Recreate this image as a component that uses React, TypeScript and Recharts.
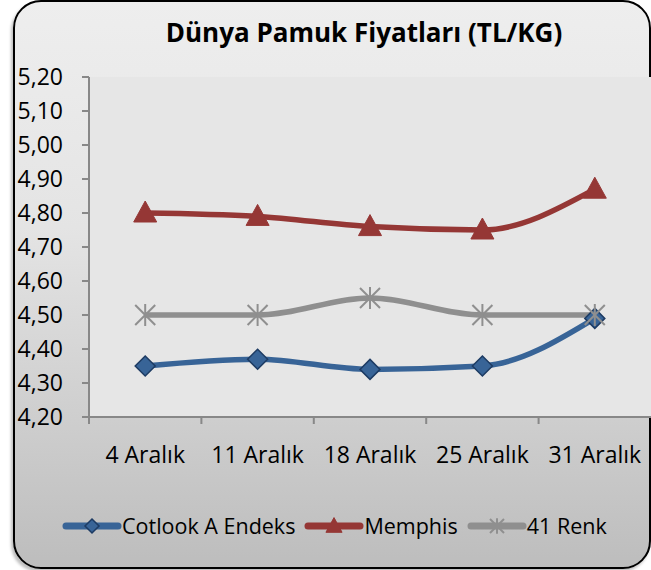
import React from "react";
import { LineChart, Line, XAxis, YAxis, CartesianGrid } from "recharts";

const dates = ["4 Aralık", "11 Aralık", "18 Aralık", "25 Aralık", "31 Aralık"];
const cotlook = [4.35, 4.37, 4.34, 4.35, 4.49];
const memphis = [4.8, 4.79, 4.76, 4.75, 4.87];
const renk41 = [4.5, 4.5, 4.55, 4.5, 4.5];
const yTicks = [4.2, 4.3, 4.4, 4.5, 4.6, 4.7, 4.8, 4.9, 5.0, 5.1, 5.2];

const FONT = "'Open Sans', Lato, sans-serif";
const W = 651;
const H = 570;
const Y_AXIS_W = 89;
const X_AXIS_H = 30;
const TICK_GAP = 30;
const HALF_BAND = (W - Y_AXIS_W) / dates.length / 2;

const data = dates.map((d, i) => ({
  date: d,
  cotlook: cotlook[i],
  memphis: memphis[i],
  renk: renk41[i],
}));

type Marker = "diamond" | "triangle" | "star";

const series: { key: string; name: string; color: string; marker: Marker }[] = [
  { key: "cotlook", name: "Cotlook A Endeks", color: "#386497", marker: "diamond" },
  { key: "memphis", name: "Memphis", color: "#953735", marker: "triangle" },
  { key: "renk", name: "41 Renk", color: "#8f8f8f", marker: "star" },
];

const drawMarker = (m: Marker, cx: number, cy: number, color: string, s: number, key?: string) => {
  if (m === "diamond") {
    return (
      <path key={key} d={`M${cx},${cy - s} L${cx + s},${cy} L${cx},${cy + s} L${cx - s},${cy} Z`}
        fill={color} stroke="#1d3b63" strokeWidth={1.5} />
    );
  }
  if (m === "triangle") {
    return (
      <path key={key} d={`M${cx},${cy - s * 1.2} L${cx + s * 1.15},${cy + s * 0.9} L${cx - s * 1.15},${cy + s * 0.9} Z`}
        fill={color} stroke={color} strokeWidth={1} />
    );
  }
  return (
    <g key={key} stroke={color} strokeWidth={2}>
      <line x1={cx - s} y1={cy - s} x2={cx + s} y2={cy + s} />
      <line x1={cx - s} y1={cy + s} x2={cx + s} y2={cy - s} />
      <line x1={cx} y1={cy - s * 1.1} x2={cx} y2={cy + s * 1.1} />
    </g>
  );
};

const fmt = (v: number) => v.toFixed(2).replace(".", ",");

// tick marks sit on the category boundaries, labels in the middle
const XTick = (p: any) => {
  const axisY = p.y - TICK_GAP;
  return (
    <g>
      <line x1={p.x - HALF_BAND} y1={axisY} x2={p.x - HALF_BAND} y2={axisY + 7} stroke="#888" strokeWidth={2} />
      <text x={p.x} y={p.y} dy="0.71em" textAnchor="middle" fill="#000" fontSize={23} fontFamily={FONT}>
        {p.payload.value}
      </text>
    </g>
  );
};

export default function App() {
  return (
    <div style={{ position: "absolute", left: 0, top: 0, width: W, height: H, background: "#fff", fontFamily: FONT }}>
      <div
        style={{
          position: "absolute", left: 13, top: 0, width: 634, height: 565,
          border: "2px solid #000", borderRadius: 28,
          background: "linear-gradient(#eeeeee, #e4e4e4 40%, #bdbdbd)",
          boxShadow: "-2px 3px 3px rgba(0,0,0,0.25)",
        }}
      />
      <div style={{ position: "absolute", left: 0, top: 14, width: 728, textAlign: "center", fontSize: 26, fontWeight: 700, color: "#000" }}>
        Dünya Pamuk Fiyatları (TL/KG)
      </div>
      <div style={{ position: "absolute", left: 0, top: 0 }}>
        <LineChart width={W} height={H} data={data} margin={{ top: 77, right: 0, bottom: 153 - X_AXIS_H, left: 0 }}>
          <CartesianGrid horizontal={false} vertical={false} fill="#e6e6e6" stroke="none" />
          <XAxis dataKey="date" scale="band" height={X_AXIS_H} stroke="#888" strokeWidth={2} tickLine={false}
            tickSize={0} tickMargin={TICK_GAP} tick={<XTick />} interval={0} />
          <YAxis domain={[4.2, 5.2]} ticks={yTicks} tickFormatter={fmt} width={Y_AXIS_W} stroke="#888" strokeWidth={2}
            tickSize={7} tickMargin={19} tick={{ fill: "#000", fontSize: 23, fontFamily: FONT }} interval={0} />
          {series.map((s) => (
            <Line key={s.key} dataKey={s.key} type="monotone" stroke={s.color} strokeWidth={5.5}
              isAnimationActive={false}
              dot={(p: any) => drawMarker(s.marker, p.cx, p.cy, s.color, 10, `${s.key}-${p.index}`)} />
          ))}
        </LineChart>
      </div>
      <div style={{ position: "absolute", left: 62, top: 511, display: "flex", alignItems: "center", fontSize: 21.5, color: "#000" }}>
        {series.map((s) => (
          <div key={s.key} style={{ display: "flex", alignItems: "center", marginRight: 9 }}>
            <svg width={60} height={26}>
              <line x1={4} y1={13} x2={56} y2={13} stroke={s.color} strokeWidth={7} strokeLinecap="round" />
              {drawMarker(s.marker, 30, 13, s.color, 7)}
            </svg>
            <span>{s.name}</span>
          </div>
        ))}
      </div>
    </div>
  );
}
